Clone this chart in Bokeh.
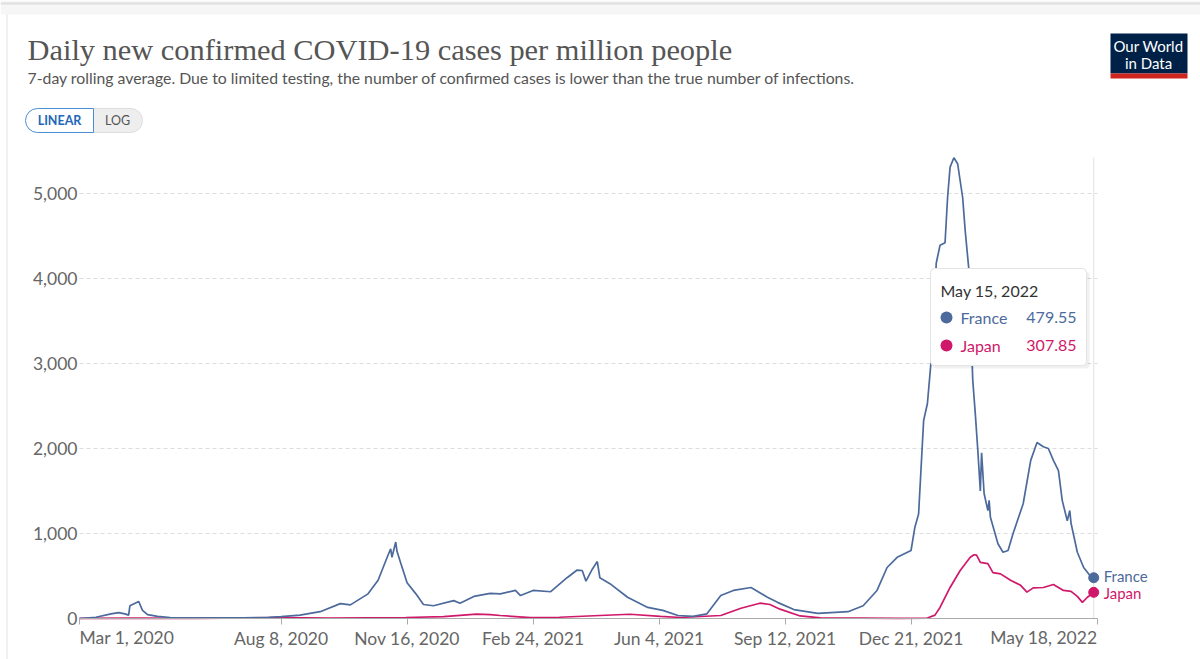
import pandas as pd
from bokeh.plotting import figure
from bokeh.models import (Range1d, FixedTicker, NumeralTickFormatter, Label,
                          BoxAnnotation)
from bokeh.embed import file_html
from bokeh.resources import INLINE

# ---------------- data ----------------
france_dates = [
    "2020-03-01", "2020-03-14", "2020-03-26", "2020-04-01", "2020-04-06", "2020-04-09",
    "2020-04-10", "2020-04-17", "2020-04-20", "2020-04-24", "2020-05-02", "2020-05-12",
    "2020-06-05", "2020-07-09", "2020-07-29", "2020-08-08", "2020-08-23", "2020-09-08",
    "2020-09-24", "2020-10-02", "2020-10-16", "2020-10-24", "2020-10-28", "2020-11-01",
    "2020-11-03", "2020-11-04", "2020-11-07", "2020-11-08", "2020-11-11", "2020-11-13",
    "2020-11-16", "2020-11-23", "2020-11-29", "2020-12-07", "2020-12-23", "2020-12-28",
    "2021-01-08", "2021-01-21", "2021-01-29", "2021-02-10", "2021-02-14", "2021-02-24",
    "2021-03-10", "2021-03-23", "2021-03-31", "2021-04-04", "2021-04-07", "2021-04-12",
    "2021-04-16", "2021-04-18", "2021-04-26", "2021-05-10", "2021-05-26", "2021-06-07",
    "2021-06-19", "2021-07-01", "2021-07-12", "2021-07-23", "2021-08-02", "2021-08-16",
    "2021-08-29", "2021-09-06", "2021-09-19", "2021-10-08", "2021-11-01", "2021-11-13",
    "2021-11-24", "2021-12-02", "2021-12-10", "2021-12-21", "2021-12-24", "2021-12-27",
    "2021-12-31", "2022-01-03", "2022-01-07", "2022-01-10", "2022-01-13", "2022-01-17",
    "2022-01-19", "2022-01-21", "2022-01-24", "2022-01-27", "2022-01-31", "2022-02-02",
    "2022-02-05", "2022-02-08", "2022-02-10", "2022-02-12", "2022-02-14", "2022-02-15",
    "2022-02-17", "2022-02-20", "2022-02-21", "2022-02-22", "2022-02-28", "2022-03-04",
    "2022-03-08", "2022-03-12", "2022-03-20", "2022-03-26", "2022-03-31", "2022-04-05",
    "2022-04-09", "2022-04-13", "2022-04-17", "2022-04-20", "2022-04-24", "2022-04-26",
    "2022-04-27", "2022-05-02", "2022-05-07", "2022-05-12", "2022-05-15",
]
france_values = [
    0, 15, 55, 70, 55, 40,
    150, 200, 95, 45, 25, 12,
    8, 9, 15, 22, 40, 80,
    175, 160, 290, 450, 600, 750,
    820, 720, 900, 790, 650, 560,
    420, 290, 165, 150, 210, 180,
    260, 295, 290, 330, 270, 330,
    315, 480, 570, 565, 440, 580,
    670, 480, 410, 250, 130, 95,
    35, 25, 55, 270, 330, 365,
    250, 190, 105, 60, 80, 150,
    330, 600, 720, 800, 1070, 1230,
    2330, 2530, 3210, 4180, 4390, 4420,
    4950, 5310, 5420, 5350, 4950, 4560,
    4090, 2800, 2410, 1980, 1500, 1950,
    1470, 1270, 1390, 1190, 880, 780,
    800, 1000, 1350, 1860, 2070, 2020,
    2000, 1860, 1740, 1390, 1150, 1270,
    1120, 780, 600, 505, 479.55,
]

japan_dates = [
    "2020-03-01", "2020-04-15", "2020-06-01", "2020-08-05", "2020-09-15", "2020-11-15",
    "2020-12-15", "2021-01-10", "2021-01-21", "2021-01-29", "2021-02-22", "2021-03-17",
    "2021-04-18", "2021-05-12", "2021-06-05", "2021-06-21", "2021-07-23", "2021-08-08",
    "2021-08-23", "2021-08-31", "2021-09-08", "2021-09-24", "2021-10-10", "2021-12-12",
    "2022-01-03", "2022-01-09", "2022-01-13", "2022-01-21", "2022-01-29", "2022-02-06",
    "2022-02-09", "2022-02-11", "2022-02-14", "2022-02-20", "2022-02-24", "2022-03-02",
    "2022-03-10", "2022-03-18", "2022-03-23", "2022-03-28", "2022-04-05", "2022-04-13",
    "2022-04-21", "2022-04-27", "2022-05-02", "2022-05-06", "2022-05-10", "2022-05-15",
]
japan_values = [
    1, 4, 1, 10, 4, 12,
    22, 52, 45, 35, 10, 15,
    35, 50, 25, 12, 35, 120,
    180, 165, 110, 30, 8, 2,
    5, 40, 130, 365, 565, 720,
    750, 745, 660, 645, 540, 525,
    450, 390, 310, 360, 365, 400,
    330, 320, 260, 190, 250, 307.85,
]

y_ticks = [0, 1000, 2000, 3000, 4000, 5000]
x_tick_dates = ["2020-03-01", "2020-08-08", "2020-11-16", "2021-02-24",
                "2021-06-04", "2021-09-12", "2021-12-21", "2022-05-18"]
x_tick_labels = ["Mar 1, 2020", "Aug 8, 2020", "Nov 16, 2020", "Feb 24, 2021",
                 "Jun 4, 2021", "Sep 12, 2021", "Dec 21, 2021", "May 18, 2022"]

FR = "#4C6A9C"
JP = "#D0186A"

origin = pd.Timestamp("2020-03-01")


def days(ds):
    return [int((pd.Timestamp(d) - origin).days) for d in ds]


fx = days(france_dates)
jx = days(japan_dates)
tx = days(x_tick_dates)

# ---------------- geometry (page pixels) ----------------
W, H = 1200, 659
AX_L, AX_R = 79.0, 1097.0      # x pixel of first / last tick
AX_B = 618.0                   # y pixel of value 0
PX_PER_K = 85.0                # pixels per 1000 cases
sx = (AX_R - AX_L) / (tx[-1] - tx[0])
x0 = tx[0] - AX_L / sx
x1 = tx[0] + (W - AX_L) / sx
k = PX_PER_K / 1000.0
y_top = AX_B / k
y_bot = (AX_B - H) / k

p = figure(width=W, height=H, output_backend="svg", toolbar_location=None,
           x_range=Range1d(x0, x1), y_range=Range1d(y_bot, y_top),
           min_border=0, min_border_left=0, min_border_right=0,
           min_border_top=0, min_border_bottom=0)
p.outline_line_color = None
p.background_fill_color = "white"
p.border_fill_color = "white"
p.xgrid.visible = False
p.ygrid.visible = False

# y axis drawn at the first date
p.yaxis.fixed_location = tx[0]
p.yaxis.ticker = FixedTicker(ticks=y_ticks)
p.yaxis.formatter = NumeralTickFormatter(format="0,0")
p.yaxis.axis_line_color = None
p.yaxis.major_tick_line_color = None
p.yaxis.minor_tick_line_color = None
p.yaxis.major_tick_out = 0
p.yaxis.major_tick_in = 0
p.yaxis.major_label_text_font = "Lato"
p.yaxis.major_label_text_font_size = "17.5px"
p.yaxis.major_label_text_color = "#666666"
p.yaxis.major_label_standoff = 2

# x axis drawn at value 0
p.xaxis.fixed_location = 0
p.xaxis.bounds = (tx[0], tx[-1])
p.xaxis.ticker = FixedTicker(ticks=tx)
overrides = {t: l for t, l in zip(tx, x_tick_labels)}
overrides[tx[0]] = ""
overrides[tx[-1]] = ""
p.xaxis.major_label_overrides = overrides
p.xaxis.axis_line_color = "#aaaaaa"
p.xaxis.major_tick_line_color = "#aaaaaa"
p.xaxis.minor_tick_line_color = None
p.xaxis.major_tick_out = 6
p.xaxis.major_tick_in = 0
p.xaxis.major_label_text_font = "Lato"
p.xaxis.major_label_text_font_size = "17.5px"
p.xaxis.major_label_text_color = "#666666"
p.xaxis.major_label_standoff = 3


def box(l, t, r, b, fill, line=None, radius=0, alpha=1.0, level="overlay"):
    p.add_layout(BoxAnnotation(left=l, right=r, top=H - t, bottom=H - b,
                               left_units="screen", right_units="screen",
                               top_units="screen", bottom_units="screen",
                               fill_color=fill, fill_alpha=alpha,
                               line_color=line, line_alpha=1 if line else 0,
                               border_radius=radius, level=level))


def lab(text, x, y, size, color, font="Lato", align="left", style="normal"):
    p.add_layout(Label(x=x, y=H - y, x_units="screen", y_units="screen", text=text,
                       text_font=font, text_font_size=size, text_color=color,
                       text_align=align, text_baseline="middle", text_font_style=style,
                       level="overlay"))


# page / card decoration
box(0, 0, W, 14, "#f6f6f6", level="underlay")
box(0, 2, W, 4, "#dedede", level="underlay")
box(6, 14, 7, H, "#e4e4e4", level="underlay")

# horizontal dashed grid lines (span only the time axis)
grid_y = [t for t in y_ticks if t > 0]
p.segment(x0=[tx[0]] * len(grid_y), y0=grid_y, x1=[tx[-1]] * len(grid_y), y1=grid_y,
          line_color="#dddddd", line_dash="4 3", line_width=1, level="underlay")

# hover line at the last date
p.segment(x0=[fx[-1]], y0=[0], x1=[fx[-1]], y1=[(AX_B - 157) / k],
          line_color="#e2e2e2", line_width=1, level="underlay")

# series
p.line(jx, japan_values, line_color=JP, line_width=1.7)
p.line(fx, france_values, line_color=FR, line_width=1.7)
p.scatter([fx[-1]], [france_values[-1]], size=10, color=FR)
p.scatter([jx[-1]], [japan_values[-1]], size=10, color=JP)

p.add_layout(Label(x=fx[-1], y=france_values[-1], x_offset=10, y_offset=2, text="France",
                   text_font="Lato", text_font_size="15px", text_color=FR,
                   text_baseline="middle"))
p.add_layout(Label(x=jx[-1], y=japan_values[-1], x_offset=10, y_offset=-1, text="Japan",
                   text_font="Lato", text_font_size="15px", text_color=JP,
                   text_baseline="middle"))

# first / last tick labels aligned to the ends (as in the original)
p.add_layout(Label(x=tx[0], y=0, y_offset=-19, text=x_tick_labels[0],
                   text_font="Lato", text_font_size="17.5px", text_color="#666666",
                   text_align="left", text_baseline="middle"))
p.add_layout(Label(x=tx[-1], y=0, y_offset=-19, text=x_tick_labels[-1],
                   text_font="Lato", text_font_size="17.5px", text_color="#666666",
                   text_align="right", text_baseline="middle"))

# header
lab("Daily new confirmed COVID-19 cases per million people", 27, 49, "30.4px", "#555555",
    font="Liberation Serif")
lab("7-day rolling average. Due to limited testing, the number of confirmed cases is lower "
    "than the true number of infections.", 27, 77, "15.8px", "#555555")

# LINEAR / LOG buttons
box(88, 108, 142, 132, "#eeeeee", "#dddddd", radius=(0, 12, 12, 0))
box(25, 108, 93, 132, "#ffffff", "#4a8fd4", radius=(12, 0, 0, 12))
lab("LINEAR", 59, 120, "12.5px", "#2166b8", align="center", style="bold")
lab("LOG", 117, 120, "12.5px", "#555555", align="center")

# logo
box(1110, 33, 1187, 73, "#002147")
box(1110, 73, 1187, 78, "#CE261E")
lab("Our World", 1148, 45, "15px", "#ffffff", align="center")
lab("in Data", 1148, 62, "15px", "#ffffff", align="center")

# tooltip
box(932, 271, 1089, 368, "#000000", alpha=0.06, radius=4)
box(930, 268, 1086, 365, "#ffffff", "#e4e4e4", radius=4)
lab("May 15, 2022", 940, 290, "16px", "#333333")
box(940, 311, 952, 323, FR, radius=6)
box(940, 339, 952, 351, JP, radius=6)
lab("France", 960, 317, "16px", FR)
lab("479.55", 1076, 317, "16px", FR, align="right")
lab("Japan", 960, 345, "16px", JP)
lab("307.85", 1076, 345, "16px", JP, align="right")

open("out.html", "w").write(file_html(p, INLINE))
